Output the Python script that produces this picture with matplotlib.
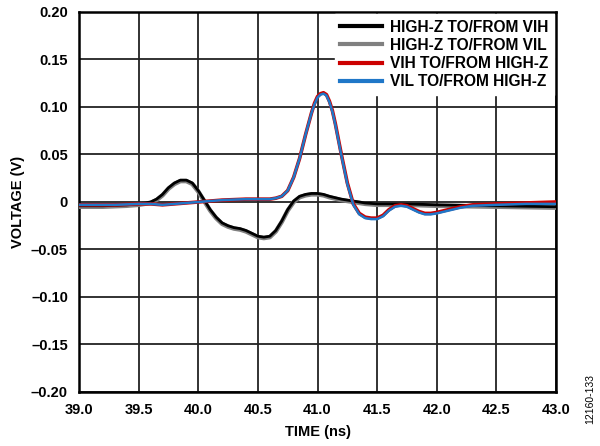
import matplotlib
matplotlib.use("Agg")
import matplotlib.pyplot as plt
from matplotlib.ticker import FuncFormatter

plt.rcParams['font.family'] = ['Liberation Sans', 'DejaVu Sans']
plt.rcParams['font.weight'] = 'bold'

# HIGH-Z TO/FROM VIH (black)
t_hz_vih = [39.0, 39.2, 39.4, 39.5, 39.6, 39.65, 39.7, 39.75, 39.8, 39.85, 39.9, 39.95,
            40.0, 40.05, 40.1, 40.15, 40.2, 40.25, 40.3, 40.35, 40.4, 40.45, 40.5, 40.55,
            40.6, 40.65, 40.7, 40.75, 40.8, 40.85, 40.9, 40.95, 41.0, 41.05, 41.1, 41.2,
            41.3, 41.4, 41.5, 41.75, 42.0, 42.5, 43.0]
v_hz_vih = [-0.004, -0.004, -0.003, -0.002, 0.000, 0.003, 0.008, 0.015, 0.020, 0.023, 0.023, 0.020,
            0.012, 0.002, -0.008, -0.016, -0.022, -0.025, -0.027, -0.028, -0.030, -0.033, -0.036, -0.037,
            -0.036, -0.030, -0.020, -0.008, 0.001, 0.006, 0.008, 0.009, 0.009, 0.008, 0.006, 0.003,
            0.001, -0.001, -0.002, -0.002, -0.003, -0.004, -0.005]

# HIGH-Z TO/FROM VIL (gray)
v_hz_vil = [-0.005, -0.005, -0.004, -0.003, -0.001, 0.002, 0.007, 0.014, 0.019, 0.022, 0.022, 0.019,
            0.011, 0.001, -0.009, -0.017, -0.023, -0.026, -0.028, -0.029, -0.031, -0.034, -0.037, -0.038,
            -0.037, -0.031, -0.021, -0.009, 0.000, 0.005, 0.007, 0.008, 0.008, 0.007, 0.005, 0.002,
            0.000, -0.002, -0.003, -0.003, -0.004, -0.005, -0.006]

# VIH TO/FROM HIGH-Z (red)
t_vh = [39.0, 39.3, 39.5, 39.6, 39.7, 39.8, 39.9, 40.0, 40.2, 40.4, 40.6, 40.65, 40.7, 40.75,
        40.8, 40.85, 40.9, 40.95, 40.975, 41.0, 41.025, 41.05, 41.075, 41.1, 41.125, 41.15,
        41.2, 41.25, 41.3, 41.35, 41.4, 41.45, 41.5, 41.55, 41.6, 41.65, 41.7, 41.75, 41.8,
        41.85, 41.9, 41.95, 42.0, 42.1, 42.2, 42.3, 42.5, 42.75, 43.0]
v_vih_hz = [-0.003, -0.003, -0.002, -0.002, -0.003, -0.002, -0.001, 0.000, 0.002, 0.003, 0.003, 0.004,
            0.006, 0.012, 0.026, 0.046, 0.071, 0.094, 0.104, 0.111, 0.114, 0.115, 0.113, 0.106, 0.096,
            0.082, 0.050, 0.020, -0.002, -0.012, -0.016, -0.017, -0.017, -0.014, -0.008, -0.004, -0.003,
            -0.004, -0.007, -0.010, -0.012, -0.012, -0.011, -0.008, -0.005, -0.003, -0.002, -0.001, 0.000]

# VIL TO/FROM HIGH-Z (blue)
v_vil_hz = [-0.003, -0.003, -0.002, -0.002, -0.003, -0.002, -0.001, 0.000, 0.002, 0.003, 0.003, 0.004,
            0.006, 0.012, 0.026, 0.046, 0.071, 0.094, 0.103, 0.110, 0.113, 0.114, 0.112, 0.105, 0.095,
            0.081, 0.049, 0.019, -0.003, -0.013, -0.017, -0.018, -0.018, -0.015, -0.009, -0.005, -0.004,
            -0.005, -0.008, -0.011, -0.013, -0.013, -0.012, -0.009, -0.006, -0.004, -0.003, -0.002, -0.002]

labels = ["HIGH-Z TO/FROM VIH", "HIGH-Z TO/FROM VIL", "VIH TO/FROM HIGH-Z", "VIL TO/FROM HIGH-Z"]
colors = ["#000000", "#808080", "#cc0000", "#1f77c8"]

fig = plt.figure(figsize=(6, 4.46), dpi=100)
ax = fig.add_axes([0.1317, 0.1211, 0.795, 0.852])

ax.plot(t_hz_vih, v_hz_vil, color=colors[1], lw=3.2, label=labels[1], zorder=3)
ax.plot(t_hz_vih, v_hz_vih, color=colors[0], lw=2.0, label=labels[0], zorder=4)
ax.plot(t_vh, v_vih_hz, color=colors[2], lw=2.6, label=labels[2], zorder=5)
ax.plot(t_vh, v_vil_hz, color=colors[3], lw=1.8, label=labels[3], zorder=6)

ax.set_xlim(39.0, 43.0)
ax.set_ylim(-0.20, 0.20)
ax.set_xticks([39.0, 39.5, 40.0, 40.5, 41.0, 41.5, 42.0, 42.5, 43.0])
ax.set_yticks([-0.20, -0.15, -0.10, -0.05, 0, 0.05, 0.10, 0.15, 0.20])
ax.xaxis.set_major_formatter(FuncFormatter(lambda v, p: "%.1f" % v))
ax.yaxis.set_major_formatter(FuncFormatter(
    lambda v, p: "0" if abs(v) < 1e-9 else ("%.2f" % v).replace("-", "\u2013")))
ax.tick_params(length=0, labelsize=10.5, pad=8)
ax.grid(True, color="#222222", lw=1.3)
ax.set_axisbelow(True)
for s in ax.spines.values():
    s.set_linewidth(1.8)

ax.set_xlabel("TIME (ns)", fontsize=10.5, fontweight="bold", labelpad=6)
ax.set_ylabel("VOLTAGE (V)", fontsize=10.5, fontweight="bold", labelpad=4)

handles, labs = ax.get_legend_handles_labels()
order = [1, 0, 2, 3]
leg = ax.legend([handles[i] for i in order], [labs[i] for i in order],
                loc="upper right", frameon=True, fancybox=False, edgecolor="white",
                framealpha=1, fontsize=11.2, handlelength=2.7, handletextpad=0.5,
                labelspacing=0.2, borderaxespad=0.15, borderpad=0.35)
for h in leg.get_lines():
    h.set_linewidth(3)
leg.set_zorder(10)

fig.text(0.983, 0.105, "12160-133", rotation=90, fontsize=7.5, fontweight="normal",
         ha="center", va="center")

fig.savefig("out.png", dpi=100)
